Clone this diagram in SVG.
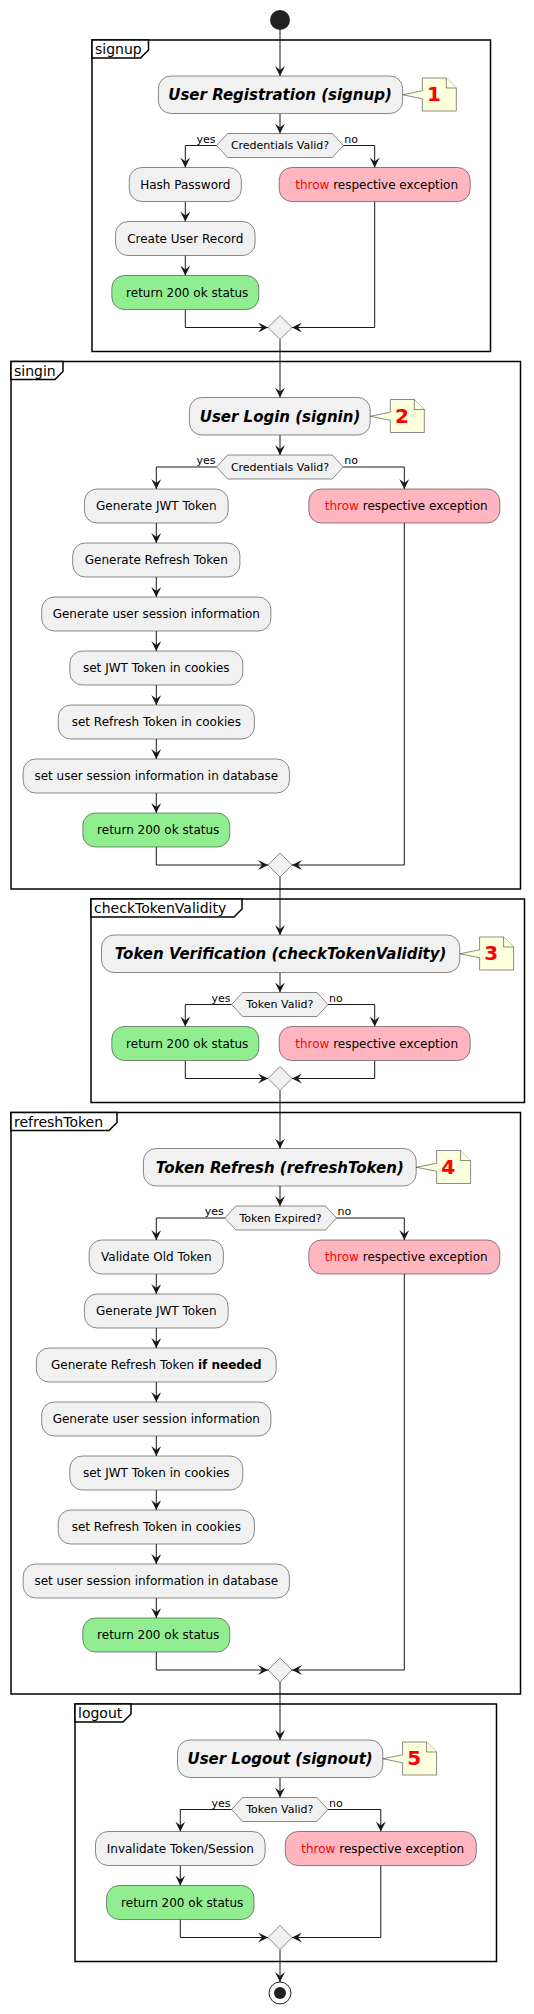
<svg xmlns="http://www.w3.org/2000/svg" width="534" height="2014" viewBox="0 0 534 2014">
<defs>
<style>
.frame{fill:none;stroke:#000;stroke-width:1.5}
.tab{fill:#fff;stroke:#000;stroke-width:1.5}
.flbl{font-family:"DejaVu Sans",sans-serif;font-size:14px;fill:#000}
.box{fill:#F1F1F1;stroke:#181818;stroke-width:0.5}
.ok{fill:#90EE90;stroke:#181818;stroke-width:0.5}
.err{fill:#FFB6C1;stroke:#181818;stroke-width:0.5}
.note{fill:#FEFFDD;stroke:#181818;stroke-width:0.5}
.t{font-family:"DejaVu Sans",sans-serif;font-size:12px;fill:#000;text-anchor:middle}
.title{font-family:"DejaVu Sans",sans-serif;font-size:15px;font-weight:bold;font-style:italic;fill:#000;text-anchor:middle}
.dt{font-family:"DejaVu Sans",sans-serif;font-size:11px;fill:#000;text-anchor:middle}
.yes{font-family:"DejaVu Sans",sans-serif;font-size:11px;fill:#000;text-anchor:end}
.no{font-family:"DejaVu Sans",sans-serif;font-size:11px;fill:#000}
.num{font-family:"DejaVu Sans",sans-serif;font-size:20px;font-weight:bold;fill:#FF0000}
.red{fill:#FF0000}
.b{font-weight:bold}
.edge{fill:none;stroke:#181818;stroke-width:1;marker-end:url(#ah)}
</style>
<marker id="ah" viewBox="0 0 10 10" refX="10" refY="5" markerWidth="10" markerHeight="10" markerUnits="userSpaceOnUse" orient="auto"><path d="M0,0 L10,5 L0,10 L4,5 Z" fill="#181818"/></marker>
</defs>
<rect width="534" height="2014" fill="#fff"/>

<!-- frames -->
<g id="frame-signup">
<rect class="frame" x="92" y="40" width="398.5" height="311.5"/>
<path class="tab" d="M92,40 H148.5 V50 L140.5,58 H92 Z"/>
<text class="flbl" x="95" y="54">signup</text>
</g>
<g id="frame-singin">
<rect class="frame" x="11" y="361.5" width="509.5" height="527.5"/>
<path class="tab" d="M11,361.5 H63 V371.5 L55,379.5 H11 Z"/>
<text class="flbl" x="14" y="375.5">singin</text>
</g>
<g id="frame-check">
<rect class="frame" x="91" y="899" width="433.5" height="203.5"/>
<path class="tab" d="M91,899 H242 V909 L234,917 H91 Z"/>
<text class="flbl" x="94" y="913">checkTokenValidity</text>
</g>
<g id="frame-refresh">
<rect class="frame" x="11" y="1112.5" width="509.5" height="581.5"/>
<path class="tab" d="M11,1112.5 H117 V1122.5 L109,1130.5 H11 Z"/>
<text class="flbl" x="14" y="1126.5">refreshToken</text>
</g>
<g id="frame-logout">
<rect class="frame" x="75" y="1704" width="421.5" height="257.5"/>
<path class="tab" d="M75,1704 H131 V1714 L123,1722 H75 Z"/>
<text class="flbl" x="78" y="1718">logout</text>
</g>

<!-- connectors -->
<g id="connectors">
<path class="edge" d="M280,30 V76"/>
<path class="edge" d="M280,113.5 V133.5"/>
<path class="edge" d="M216.6,145.5 H185.3 V167.5"/>
<path class="edge" d="M343.3,145.5 H374.7 V167.5"/>
<path class="edge" d="M185.3,201.5 V221.5"/>
<path class="edge" d="M185.3,255.5 V275.5"/>
<path class="edge" d="M185.3,309.5 V327.5 H268"/>
<path class="edge" d="M374.7,201.5 V327.5 H292"/>
<path class="edge" d="M280,339.5 V397.5"/>

<path class="edge" d="M280,435 V455"/>
<path class="edge" d="M216.6,467 H156.3 V489"/>
<path class="edge" d="M343.3,467 H404.3 V489"/>
<path class="edge" d="M156.3,523 V543"/>
<path class="edge" d="M156.3,577 V597"/>
<path class="edge" d="M156.3,631 V651"/>
<path class="edge" d="M156.3,685 V705"/>
<path class="edge" d="M156.3,739 V759"/>
<path class="edge" d="M156.3,793 V813"/>
<path class="edge" d="M156.3,847 V865 H268"/>
<path class="edge" d="M404.3,523 V865 H292"/>
<path class="edge" d="M280,877 V935"/>

<path class="edge" d="M280,972.5 V992.5"/>
<path class="edge" d="M231.6,1004.5 H185.3 V1026.5"/>
<path class="edge" d="M328,1004.5 H374.7 V1026.5"/>
<path class="edge" d="M185.3,1060.5 V1078.5 H268"/>
<path class="edge" d="M374.7,1060.5 V1078.5 H292"/>
<path class="edge" d="M280,1090.5 V1148.5"/>

<path class="edge" d="M280,1186 V1206"/>
<path class="edge" d="M224.8,1218 H156.3 V1240"/>
<path class="edge" d="M336.5,1218 H404.3 V1240"/>
<path class="edge" d="M156.3,1274 V1294"/>
<path class="edge" d="M156.3,1328 V1348"/>
<path class="edge" d="M156.3,1382 V1402"/>
<path class="edge" d="M156.3,1436 V1456"/>
<path class="edge" d="M156.3,1490 V1510"/>
<path class="edge" d="M156.3,1544 V1564"/>
<path class="edge" d="M156.3,1598 V1618"/>
<path class="edge" d="M156.3,1652 V1670 H268"/>
<path class="edge" d="M404.3,1274 V1670 H292"/>
<path class="edge" d="M280,1682 V1740"/>

<path class="edge" d="M280,1777.5 V1797.5"/>
<path class="edge" d="M231.6,1809.5 H180.3 V1831.5"/>
<path class="edge" d="M328,1809.5 H380.8 V1831.5"/>
<path class="edge" d="M180.3,1865.5 V1885.5"/>
<path class="edge" d="M180.3,1919.5 V1937.5 H268"/>
<path class="edge" d="M380.8,1865.5 V1937.5 H292"/>
<path class="edge" d="M280,1949.5 V1982"/>
</g>

<!-- start -->
<g id="start"><circle cx="280" cy="20" r="10" fill="#222"/></g>

<!-- signup nodes -->
<g id="signup-title"><rect class="box" x="158.4" y="76" width="244.2" height="37.5" rx="12.5"/><text class="title" x="280" y="100.2">User Registration (signup)</text></g>
<g id="note-1"><path class="note" d="M422.3,78 H446.3 L456.3,88 V111 H422.3 V98.75 L402.6,94.75 L422.3,90.75 Z"/><path class="note" d="M446.3,78 V88 H456.3" fill="none"/><text class="num" x="427" y="101.4">1</text></g>
<g id="signup-decision"><polygon class="box" points="216.6,145.5 227.6,133.5 332.3,133.5 343.3,145.5 332.3,157.5 227.6,157.5"/><text class="dt" x="280" y="149.3">Credentials Valid?</text><text class="yes" x="215.6" y="142.5">yes</text><text class="no" x="344.3" y="142.5">no</text></g>
<g id="signup-hash"><rect class="box" x="129.3" y="167.5" width="112" height="34" rx="12.5"/><text class="t" x="185.3" y="188.7">Hash Password</text></g>
<g id="signup-create"><rect class="box" x="115.5" y="221.5" width="139.6" height="34" rx="12.5"/><text class="t" x="185.3" y="242.7">Create User Record</text></g>
<g id="signup-ok"><rect class="ok" x="111.8" y="275.5" width="147" height="34" rx="12.5"/><text class="t" x="187.2" y="296.7">return 200 ok status</text></g>
<g id="signup-err"><rect class="err" x="279.2" y="167.5" width="191" height="34" rx="12.5"/><text class="t" x="376.6" y="188.7"><tspan class="red">throw</tspan> respective exception</text></g>
<g id="signup-merge"><polygon class="box" points="280,315.5 292,327.5 280,339.5 268,327.5"/></g>

<!-- singin nodes -->
<g id="signin-title"><rect class="box" x="189.4" y="397.5" width="180.8" height="37.5" rx="12.5"/><text class="title" x="280" y="421.7">User Login (signin)</text></g>
<g id="note-2"><path class="note" d="M390.3,399.5 H414.3 L424.3,409.5 V432.5 H390.3 V420.25 L370.2,416.25 L390.3,412.25 Z"/><path class="note" d="M414.3,399.5 V409.5 H424.3" fill="none"/><text class="num" x="395" y="422.9">2</text></g>
<g id="signin-decision"><polygon class="box" points="216.6,467 227.6,455 332.3,455 343.3,467 332.3,479 227.6,479"/><text class="dt" x="280" y="470.8">Credentials Valid?</text><text class="yes" x="215.6" y="464">yes</text><text class="no" x="344.3" y="464">no</text></g>
<g id="signin-jwt"><rect class="box" x="84.45" y="489" width="143.7" height="34" rx="12.5"/><text class="t" x="156.3" y="510.2">Generate JWT Token</text></g>
<g id="signin-refresh"><rect class="box" x="72.7" y="543" width="167.2" height="34" rx="12.5"/><text class="t" x="156.3" y="564.2">Generate Refresh Token</text></g>
<g id="signin-session"><rect class="box" x="41.7" y="597" width="229.2" height="34" rx="12.5"/><text class="t" x="156.3" y="618.2">Generate user session information</text></g>
<g id="signin-setjwt"><rect class="box" x="69.8" y="651" width="173" height="34" rx="12.5"/><text class="t" x="156.3" y="672.2">set JWT Token in cookies</text></g>
<g id="signin-setrefresh"><rect class="box" x="58.2" y="705" width="196.2" height="34" rx="12.5"/><text class="t" x="156.3" y="726.2">set Refresh Token in cookies</text></g>
<g id="signin-setdb"><rect class="box" x="23.15" y="759" width="266.3" height="34" rx="12.5"/><text class="t" x="156.3" y="780.2">set user session information in database</text></g>
<g id="signin-ok"><rect class="ok" x="82.8" y="813" width="147" height="34" rx="12.5"/><text class="t" x="158.2" y="834.2">return 200 ok status</text></g>
<g id="signin-err"><rect class="err" x="308.8" y="489" width="191" height="34" rx="12.5"/><text class="t" x="406.2" y="510.2"><tspan class="red">throw</tspan> respective exception</text></g>
<g id="signin-merge"><polygon class="box" points="280,853 292,865 280,877 268,865"/></g>

<!-- checkTokenValidity nodes -->
<g id="check-title"><rect class="box" x="101.5" y="935" width="358.3" height="37.5" rx="12.5"/><text class="title" x="280.6" y="959.2">Token Verification (checkTokenValidity)</text></g>
<g id="note-3"><path class="note" d="M479.6,937 H503.6 L513.6,947 V970 H479.6 V957.75 L459.8,953.75 L479.6,949.75 Z"/><path class="note" d="M503.6,937 V947 H513.6" fill="none"/><text class="num" x="484.3" y="960.4">3</text></g>
<g id="check-decision"><polygon class="box" points="231.6,1004.5 242.6,992.5 317,992.5 328,1004.5 317,1016.5 242.6,1016.5"/><text class="dt" x="279.8" y="1008.3">Token Valid?</text><text class="yes" x="230.6" y="1001.5">yes</text><text class="no" x="329" y="1001.5">no</text></g>
<g id="check-ok"><rect class="ok" x="111.8" y="1026.5" width="147" height="34" rx="12.5"/><text class="t" x="187.2" y="1047.7">return 200 ok status</text></g>
<g id="check-err"><rect class="err" x="279.2" y="1026.5" width="191" height="34" rx="12.5"/><text class="t" x="376.6" y="1047.7"><tspan class="red">throw</tspan> respective exception</text></g>
<g id="check-merge"><polygon class="box" points="280,1066.5 292,1078.5 280,1090.5 268,1078.5"/></g>

<!-- refreshToken nodes -->
<g id="refresh-title"><rect class="box" x="143.4" y="1148.5" width="272.8" height="37.5" rx="12.5"/><text class="title" x="279.8" y="1172.7">Token Refresh (refreshToken)</text></g>
<g id="note-4"><path class="note" d="M436.6,1150.5 H460.6 L470.6,1160.5 V1183.5 H436.6 V1171.25 L416.2,1167.25 L436.6,1163.25 Z"/><path class="note" d="M460.6,1150.5 V1160.5 H470.6" fill="none"/><text class="num" x="441.3" y="1173.9">4</text></g>
<g id="refresh-decision"><polygon class="box" points="224.8,1218 235.8,1206 325.5,1206 336.5,1218 325.5,1230 235.8,1230"/><text class="dt" x="280.6" y="1221.8">Token Expired?</text><text class="yes" x="223.8" y="1215">yes</text><text class="no" x="337.5" y="1215">no</text></g>
<g id="refresh-validate"><rect class="box" x="89.2" y="1240" width="134.2" height="34" rx="12.5"/><text class="t" x="156.3" y="1261.2">Validate Old Token</text></g>
<g id="refresh-jwt"><rect class="box" x="84.45" y="1294" width="143.7" height="34" rx="12.5"/><text class="t" x="156.3" y="1315.2">Generate JWT Token</text></g>
<g id="refresh-refresh"><rect class="box" x="36.4" y="1348" width="239.8" height="34" rx="12.5"/><text class="t" x="156.3" y="1369.2">Generate Refresh Token <tspan class="b">if needed</tspan></text></g>
<g id="refresh-session"><rect class="box" x="41.7" y="1402" width="229.2" height="34" rx="12.5"/><text class="t" x="156.3" y="1423.2">Generate user session information</text></g>
<g id="refresh-setjwt"><rect class="box" x="69.8" y="1456" width="173" height="34" rx="12.5"/><text class="t" x="156.3" y="1477.2">set JWT Token in cookies</text></g>
<g id="refresh-setrefresh"><rect class="box" x="58.2" y="1510" width="196.2" height="34" rx="12.5"/><text class="t" x="156.3" y="1531.2">set Refresh Token in cookies</text></g>
<g id="refresh-setdb"><rect class="box" x="23.15" y="1564" width="266.3" height="34" rx="12.5"/><text class="t" x="156.3" y="1585.2">set user session information in database</text></g>
<g id="refresh-ok"><rect class="ok" x="82.8" y="1618" width="147" height="34" rx="12.5"/><text class="t" x="158.2" y="1639.2">return 200 ok status</text></g>
<g id="refresh-err"><rect class="err" x="308.8" y="1240" width="191" height="34" rx="12.5"/><text class="t" x="406.2" y="1261.2"><tspan class="red">throw</tspan> respective exception</text></g>
<g id="refresh-merge"><polygon class="box" points="280,1658 292,1670 280,1682 268,1670"/></g>

<!-- logout nodes -->
<g id="logout-title"><rect class="box" x="177.5" y="1740" width="205.3" height="37.5" rx="12.5"/><text class="title" x="280.1" y="1764.2">User Logout (signout)</text></g>
<g id="note-5"><path class="note" d="M402.6,1742 H426.6 L436.6,1752 V1775 H402.6 V1762.75 L382.8,1758.75 L402.6,1754.75 Z"/><path class="note" d="M426.6,1742 V1752 H436.6" fill="none"/><text class="num" x="407.3" y="1765.4">5</text></g>
<g id="logout-decision"><polygon class="box" points="231.6,1809.5 242.6,1797.5 317,1797.5 328,1809.5 317,1821.5 242.6,1821.5"/><text class="dt" x="279.8" y="1813.3">Token Valid?</text><text class="yes" x="230.6" y="1806.5">yes</text><text class="no" x="329" y="1806.5">no</text></g>
<g id="logout-invalidate"><rect class="box" x="95.5" y="1831.5" width="169.6" height="34" rx="12.5"/><text class="t" x="180.3" y="1852.7">Invalidate Token/Session</text></g>
<g id="logout-ok"><rect class="ok" x="106.6" y="1885.5" width="147.4" height="34" rx="12.5"/><text class="t" x="182.2" y="1906.7">return 200 ok status</text></g>
<g id="logout-err"><rect class="err" x="285.3" y="1831.5" width="191" height="34" rx="12.5"/><text class="t" x="382.7" y="1852.7"><tspan class="red">throw</tspan> respective exception</text></g>
<g id="logout-merge"><polygon class="box" points="280,1925.5 292,1937.5 280,1949.5 268,1937.5"/></g>

<!-- end -->
<g id="end"><circle cx="280" cy="1993" r="11" fill="none" stroke="#222" stroke-width="1"/><circle cx="280" cy="1993" r="6" fill="#222"/></g>
</svg>
